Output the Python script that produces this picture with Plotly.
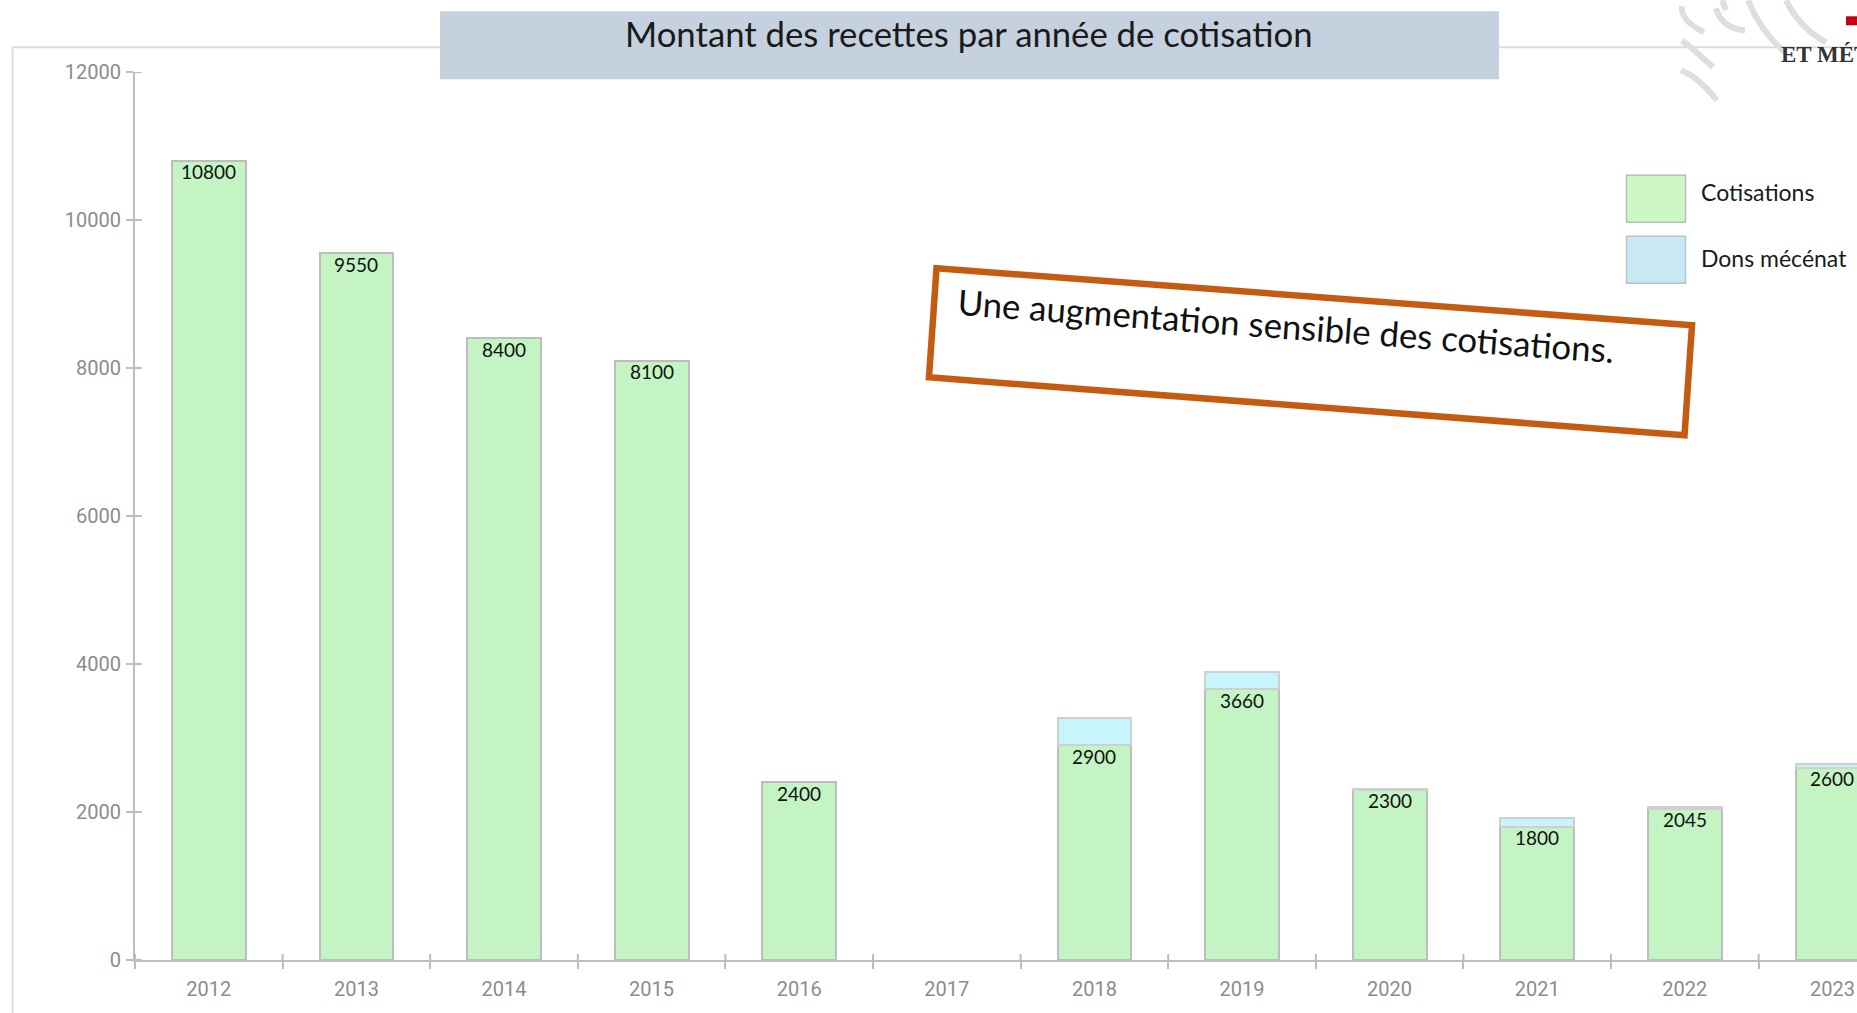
import plotly.graph_objects as go

W, H = 1857, 1013
L, R, T, B = 135, 0, 71.7, 53.3

years = ["2012","2013","2014","2015","2016","2017","2018","2019","2020","2021","2022","2023"]
cotisations = [10800, 9550, 8400, 8100, 2400, None, 2900, 3660, 2300, 1800, 2045, 2600]
dons_mecenat = [None, None, None, None, None, None, 370, 235, 15, 115, 20, 50]
y_ticks = [0, 2000, 4000, 6000, 8000, 10000, 12000]
title_text = "Montant des recettes par année de cotisation"
callout_text = "Une augmentation sensible des cotisations."

EDGE = "#bdbdbd"
TICK = "#8c8c8c"
GREEN = "#c4f4c4"
CYAN = "#c8f5fb"


def px(x):
    return (x - L) / (W - L - R)


def py(y):
    return 1 - (y - T) / (H - T - B)


def poly(points, close=False):
    s = "M " + " L ".join(f"{px(x):.5f},{py(y):.5f}" for x, y in points)
    return s + (" Z" if close else "")


def curve(a, b, c):
    return f"M {px(a[0]):.5f},{py(a[1]):.5f} Q {px(b[0]):.5f},{py(b[1]):.5f} {px(c[0]):.5f},{py(c[1]):.5f}"


fig = go.Figure()
fig.add_bar(
    x=years, y=cotisations, name="Cotisations", width=0.5,
    marker=dict(color=GREEN, line=dict(color=EDGE, width=2)),
    showlegend=False,
)
fig.add_bar(
    x=years, y=dons_mecenat, name="Dons mécénat", width=0.5,
    marker=dict(color=CYAN, line=dict(color="#cfcfcf", width=2)),
    showlegend=False,
)

shapes = []
ann = []

# value labels, hanging just under the top of each green bar
for i, value in enumerate(cotisations):
    if value is not None:
        ann.append(dict(text=str(value), xref="x", yref="y", x=i, y=value,
                        xanchor="center", yanchor="top", yshift=2.5, showarrow=False,
                        font=dict(family="Lato", size=19, color="#111111")))

# outer frame
shapes.append(dict(type="path", xref="paper", yref="paper", layer="below",
                   path=poly([(12.5, H + 5), (12.5, 47), (W + 5, 47)]),
                   line=dict(color="#dcdcdc", width=2)))

# logo remnants, top right corner
for a, b, c in [
    [(1682, 6), (1680, 20), (1704, 32)],
    [(1682, 40), (1695, 50), (1713, 67)],
    [(1681, 70), (1700, 78), (1717, 100)],
    [(1716, 8), (1722, 28), (1745, 30)],
    [(1748, 0), (1760, 30), (1785, 52)],
    [(1786, 0), (1800, 28), (1826, 42)],
    [(1722, 0), (1724, 4), (1726, 10)],
]:
    shapes.append(dict(type="path", xref="paper", yref="paper", layer="below",
                       path=curve(a, b, c), line=dict(color="#dcdfdf", width=6)))
shapes.append(dict(type="rect", xref="paper", yref="paper",
                   x0=px(1846), x1=px(W + 3), y0=py(25), y1=py(16),
                   fillcolor="#c40012", line_width=0))
ann.append(dict(text="<b>ET MÉT</b>", xref="paper", yref="paper", x=px(1779), y=py(54),
                xanchor="left", yanchor="middle", showarrow=False,
                font=dict(family="Liberation Serif", size=23, color="#333333")))

# title banner
shapes.append(dict(type="rect", xref="paper", yref="paper",
                   x0=px(440), x1=px(1499), y0=py(79), y1=py(11),
                   fillcolor="#c5d1df", line_width=0))
ann.append(dict(text=title_text, xref="paper", yref="paper", x=px(969), y=py(33),
                xanchor="center", yanchor="middle", showarrow=False,
                font=dict(family="Lato", size=34.7, color="#1a1a1a")))

# legend
for (y0, y1, ty, color, label, edge) in [
    (175, 222, 192, "#cdf6c4", "Cotisations", "#b5c4b5"),
    (236, 283, 258, "#c8e9f3", "Dons mécénat", "#b5c4cc"),
]:
    shapes.append(dict(type="rect", xref="paper", yref="paper",
                       x0=px(1626.5), x1=px(1685.5), y0=py(y1), y1=py(y0),
                       fillcolor=color, line=dict(color=edge, width=1.5)))
    ann.append(dict(text=label, xref="paper", yref="paper", x=px(1699), y=py(ty),
                    xanchor="left", yanchor="middle", showarrow=False,
                    font=dict(family="Lato", size=23, color="#1a1a1a")))

# callout
shapes.append(dict(type="path", xref="paper", yref="paper",
                   path=poly([(936.5, 268), (1692, 325), (1684.5, 435), (929, 377)], close=True),
                   line=dict(color="#c55a11", width=6.5), fillcolor="rgba(255,255,255,0)"))
ann.append(dict(text=callout_text, xref="paper", yref="paper", x=px(1286), y=py(325),
                xanchor="center", yanchor="middle", showarrow=False, textangle=4.2,
                font=dict(family="Lato", size=34.8, color="#111111")))

# upper / inner half of the crossing ticks
for i in range(len(years)):
    shapes.append(dict(type="line", xref="x", yref="y", ysizemode="pixel", yanchor=0,
                       x0=i - 0.5, x1=i - 0.5, y0=0, y1=6, line=dict(color=EDGE, width=2)))
for v in y_ticks:
    shapes.append(dict(type="line", xref="x", yref="y", xsizemode="pixel", xanchor=-0.5,
                       x0=0, x1=7, y0=v, y1=v, line=dict(color=EDGE, width=2)))

fig.update_layout(
    width=W, height=H, autosize=False, barmode="stack",
    margin=dict(l=L, r=R, t=T, b=B, pad=0),
    paper_bgcolor="white", plot_bgcolor="white",
    shapes=shapes, annotations=ann, showlegend=False,
    xaxis=dict(type="category", range=[-0.5, (W - L) / 147.6 - 0.5],
               tickson="boundaries", ticks="outside", ticklen=7, tickwidth=2, tickcolor=EDGE,
               showline=True, linecolor=EDGE, linewidth=2, showgrid=False, zeroline=False,
               ticklabelstandoff=10,
               tickfont=dict(family="Roboto", size=20, color=TICK)),
    yaxis=dict(range=[0, 12000], tickvals=y_ticks, tickformat="d", ticks="outside", ticklen=7,
               tickwidth=2, tickcolor=EDGE, showline=True, linecolor=EDGE, linewidth=2,
               showgrid=False, zeroline=False, ticklabelstandoff=1,
               tickfont=dict(family="Roboto", size=20, color=TICK)),
)

fig.write_html("out.html", config={"displayModeBar": False},
               post_script="document.body.style.margin='0';document.body.style.overflow='hidden';")
